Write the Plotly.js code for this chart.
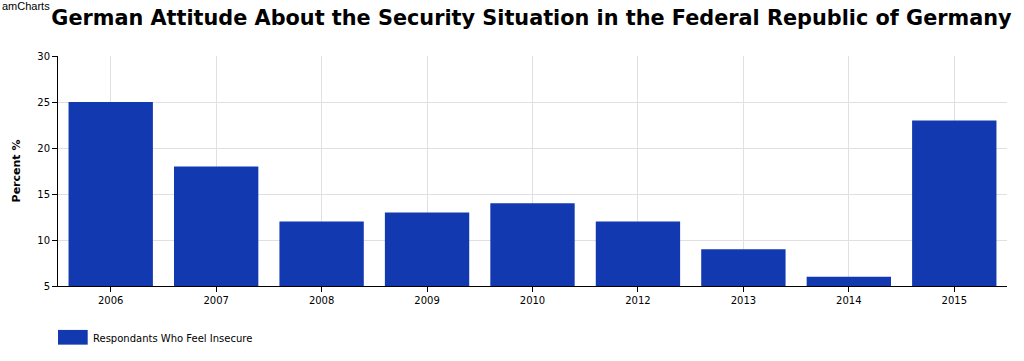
<!DOCTYPE html>
<html>
<head>
<meta charset="utf-8">
<script src="https://cdn.plot.ly/plotly-3.0.1.min.js"></script>
<style>html,body{margin:0;padding:0;background:#fff;}#chart{width:1024px;height:361px;}</style>
</head>
<body>
<div id="chart"></div>
<script>
var years = ["2006", "2007", "2008", "2009", "2010", "2012", "2013", "2014", "2015"];
var insecure = [25, 18, 12, 13, 14, 12, 9, 6, 23];
var seriesName = "Respondants Who Feel Insecure";
var yTicks = [5, 10, 15, 20, 25, 30];

var barColor = "#1339B1";
var font = "DejaVu Sans, Verdana, sans-serif";

var trace = {
  type: "bar",
  x: years,
  y: insecure,
  name: seriesName,
  marker: {color: barColor, line: {width: 0}},
  width: 0.8,
  hoverinfo: "x+y"
};

var layout = {
  width: 1024,
  height: 361,
  margin: {l: 58, r: 17, t: 56, b: 75},
  paper_bgcolor: "#fff",
  plot_bgcolor: "#fff",
  showlegend: false,
  font: {family: font, size: 10, color: "#000"},
  title: {
    text: "<b>German Attitude About the Security Situation in the Federal Republic of Germany</b>",
    font: {family: "DejaVu Sans, Verdana, sans-serif", size: 20.8, color: "#000"},
    x: 0.519, xanchor: "center", y: 0.95, yanchor: "middle"
  },
  xaxis: {
    type: "category",
    showgrid: true, gridcolor: "#e0e0e0", gridwidth: 1,
    showline: true, linecolor: "#000", linewidth: 1,
    ticks: "outside", ticklen: 5, tickcolor: "#000",
    tickfont: {family: font, size: 10, color: "#000"},
    zeroline: false, fixedrange: true
  },
  yaxis: {
    range: [5, 30],
    tickvals: yTicks,
    showgrid: true, gridcolor: "#e0e0e0", gridwidth: 1,
    showline: true, linecolor: "#000", linewidth: 1,
    ticks: "outside", ticklen: 5, tickcolor: "#000",
    tickfont: {family: font, size: 10, color: "#000"},
    zeroline: false,
    title: {text: "<b>Percent %</b>", font: {family: font, size: 11, color: "#000"}, standoff: 14},
    fixedrange: true
  },
  shapes: [{
    type: "rect", xref: "paper", yref: "paper",
    x0: 0, x1: 0.0313, y0: -0.255, y1: -0.191,
    fillcolor: barColor, line: {width: 0}
  }],
  annotations: [
    {text: "amCharts", xref: "paper", yref: "paper", x: -58/949, y: 1 + 50/230,
     xanchor: "left", yanchor: "middle", showarrow: false,
     font: {family: "Liberation Sans, Arial, sans-serif", size: 11, color: "#000"}},
    {text: seriesName, xref: "paper", yref: "paper", x: 0.0345, y: -0.228,
     xanchor: "left", yanchor: "middle", showarrow: false,
     font: {family: font, size: 10, color: "#000"}}
  ]
};

Plotly.newPlot("chart", [trace], layout, {displayModeBar: false, staticPlot: true});
</script>
</body>
</html>
